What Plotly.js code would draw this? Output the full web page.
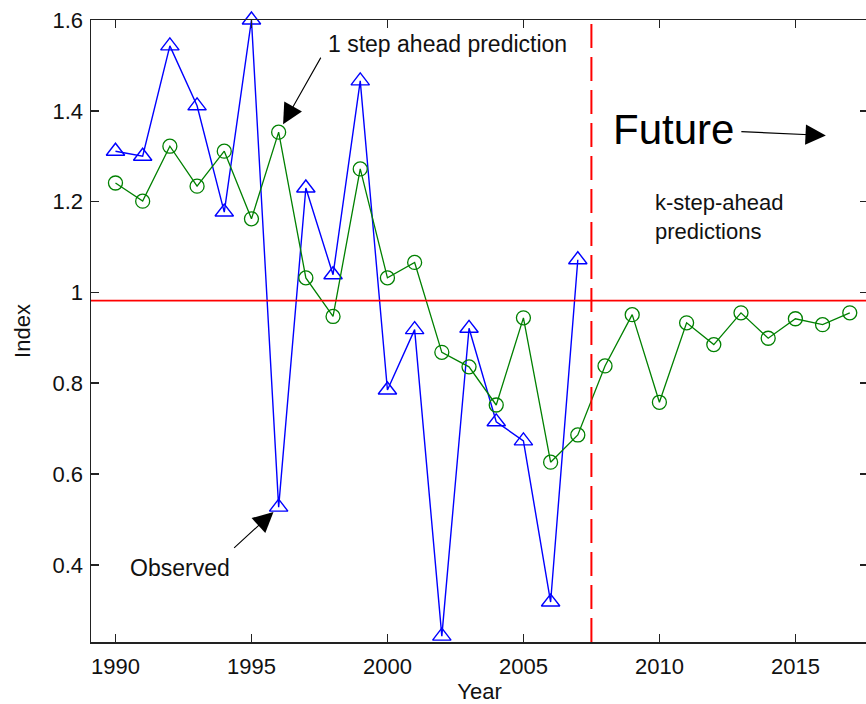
<!DOCTYPE html>
<html>
<head>
<meta charset="utf-8">
<script src="https://cdn.plot.ly/plotly-3.0.1.min.js"></script>
<style>
  html, body { margin: 0; padding: 0; background: #fff; overflow: hidden; }
  #chart { width: 870px; height: 704px; }
</style>
</head>
<body>
<div id="chart"></div>
<script>
// Observed index, 1990-2007
const observedYears = [1990, 1991, 1992, 1993, 1994, 1995, 1996, 1997, 1998,
                       1999, 2000, 2001, 2002, 2003, 2004, 2005, 2006, 2007];
const observedIndex = [1.311, 1.300, 1.543, 1.411, 1.177, 1.600, 0.527, 1.230, 1.039,
                       1.466, 0.785, 0.918, 0.243, 0.921, 0.715, 0.673, 0.318, 1.072];

// Model predictions: 1-step-ahead up to 2007, k-step-ahead afterwards
const predictedYears = [1990, 1991, 1992, 1993, 1994, 1995, 1996, 1997, 1998, 1999,
                        2000, 2001, 2002, 2003, 2004, 2005, 2006, 2007, 2008, 2009,
                        2010, 2011, 2012, 2013, 2014, 2015, 2016, 2017];
const predictedIndex = [1.241, 1.201, 1.322, 1.234, 1.311, 1.162, 1.353, 1.032, 0.947, 1.272,
                        1.032, 1.066, 0.868, 0.836, 0.752, 0.944, 0.626, 0.686, 0.838, 0.951,
                        0.758, 0.933, 0.885, 0.955, 0.899, 0.942, 0.929, 0.955];

const referenceLevel = 0.982;   // horizontal reference line
const forecastStart = 2007.5;   // boundary between past and future

const xTickVals = [1990, 1995, 2000, 2005, 2010, 2015];
const yTickVals = [0.4, 0.6, 0.8, 1.0, 1.2, 1.4, 1.6];
const yTickText = ['0.4', '0.6', '0.8', '1', '1.2', '1.4', '1.6'];

const FONT = 'Liberation Sans, Arial, sans-serif';
const INK = '#111111';
const annotationPoint = 6; // 1996

const traces = [
  {
    x: observedYears, y: observedIndex, type: 'scatter', mode: 'lines+markers',
    name: 'Observed', cliponaxis: false,
    line: { color: '#0000ff', width: 1.4 },
    marker: { symbol: 'triangle-up-open', size: 16, color: '#0000ff', line: { width: 1.4 } }
  },
  {
    x: predictedYears, y: predictedIndex, type: 'scatter', mode: 'lines+markers',
    name: 'Prediction', cliponaxis: false,
    line: { color: '#008000', width: 1.3 },
    marker: { symbol: 'circle-open', size: 14, color: '#008000', line: { width: 1.3 } }
  }
];

const axisCommon = {
  showgrid: false, zeroline: false,
  showline: true, linecolor: '#222', linewidth: 1.5,
  mirror: 'ticks', ticks: 'inside', ticklen: 8, tickwidth: 1.5, tickcolor: '#222',
  tickfont: { family: FONT, size: 22, color: INK }
};

const arrowStyle = { arrowhead: 2, arrowsize: 3.7, arrowwidth: 1.1, arrowcolor: '#000' };

const layout = {
  width: 870, height: 704,
  margin: { l: 91, r: 2, t: 20, b: 62 },
  paper_bgcolor: '#fff', plot_bgcolor: '#fff',
  showlegend: false,
  font: { family: FONT, color: INK },
  xaxis: Object.assign({}, axisCommon, {
    range: [1989.1, 2017.67],
    tickvals: xTickVals,
    ticklabelstandoff: 4,
    title: { text: 'Year', font: { family: FONT, size: 22, color: INK }, standoff: 6 }
  }),
  yaxis: Object.assign({}, axisCommon, {
    range: [0.23, 1.6],
    tickvals: yTickVals, ticktext: yTickText,
    ticklabelstandoff: 2,
    title: { text: 'Index', font: { family: FONT, size: 22, color: INK }, standoff: 16 }
  }),
  shapes: [
    { type: 'line', xref: 'paper', x0: 0, x1: 1, yref: 'y', y0: referenceLevel, y1: referenceLevel,
      line: { color: '#ff0000', width: 1.6 } },
    { type: 'line', xref: 'x', x0: forecastStart, x1: forecastStart, yref: 'paper', y0: 0, y1: 1,
      line: { color: '#ff0000', width: 2, dash: '24px,9px' } }
  ],
  annotations: [
    Object.assign({ x: predictedYears[annotationPoint], y: predictedIndex[annotationPoint],
      xref: 'x', yref: 'y', text: '', showarrow: true, ax: 43, ay: -76, standoff: 9 }, arrowStyle),
    { x: 2002.2, y: 1.548, xref: 'x', yref: 'y', text: '1 step ahead prediction', showarrow: false,
      font: { family: FONT, size: 23, color: INK } },
    Object.assign({ x: observedYears[annotationPoint], y: observedIndex[annotationPoint],
      xref: 'x', yref: 'y', text: '', showarrow: true, ax: -46, ay: 42, standoff: 7 }, arrowStyle),
    { x: 1992.37, y: 0.393, xref: 'x', yref: 'y', text: 'Observed', showarrow: false,
      font: { family: FONT, size: 23, color: INK } },
    { x: 2010.5, y: 1.359, xref: 'x', yref: 'y', text: 'Future', showarrow: false,
      font: { family: FONT, size: 42, color: '#000' } },
    Object.assign({ x: 2016.12, y: 1.3455, xref: 'x', yref: 'y', text: '', showarrow: true,
      ax: -86, ay: -4 }, arrowStyle),
    { x: 2009.76, y: 1.198, xref: 'x', yref: 'y', xanchor: 'left', text: 'k-step-ahead',
      showarrow: false, font: { family: FONT, size: 22, color: INK } },
    { x: 2009.76, y: 1.134, xref: 'x', yref: 'y', xanchor: 'left', text: 'predictions',
      showarrow: false, font: { family: FONT, size: 22, color: INK } }
  ]
};

Plotly.newPlot('chart', traces, layout, { displayModeBar: false, staticPlot: true });
</script>
</body>
</html>
